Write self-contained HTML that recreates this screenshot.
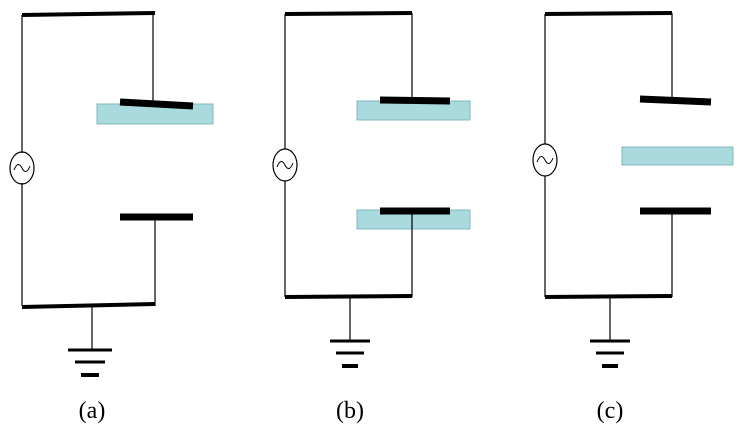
<!DOCTYPE html>
<html><head><meta charset="utf-8"><style>
html,body{margin:0;padding:0;background:#fff;width:746px;height:424px;overflow:hidden}
</style></head><body>
<svg width="746" height="424" viewBox="0 0 746 424" xmlns="http://www.w3.org/2000/svg">
<g stroke="#000" fill="none">
<!-- (a) -->
<line x1="22" y1="15" x2="155" y2="13" stroke-width="4"/>
<line x1="22" y1="15" x2="22" y2="153" stroke-width="1.2"/>
<line x1="22" y1="183" x2="22" y2="306" stroke-width="1.2"/>
<line x1="153" y1="13" x2="153" y2="103" stroke-width="1.2"/>
<rect x="97" y="104" width="116" height="20" fill="#a8dade" stroke="#7fb8bd" stroke-width="1"/>
<line x1="120" y1="102" x2="193" y2="106" stroke-width="7"/>
<line x1="120" y1="217" x2="193" y2="217" stroke-width="7"/>
<line x1="155" y1="217" x2="155" y2="306" stroke-width="1.2"/>
<line x1="22" y1="307" x2="155" y2="304" stroke-width="4"/>
<ellipse cx="22" cy="168" rx="12" ry="16" stroke-width="1.2"/>
<path d="M14 170 q4 -10 8 -2 t8 -2" stroke-width="1"/>
<line x1="92" y1="306" x2="92" y2="350" stroke-width="1.2"/>
<line x1="68" y1="350" x2="112" y2="350" stroke-width="3"/>
<line x1="75" y1="362" x2="105" y2="362" stroke-width="3"/>
<line x1="81" y1="375" x2="99" y2="375" stroke-width="4"/>
<!-- (b) -->
<line x1="285" y1="14" x2="412" y2="13" stroke-width="4"/>
<line x1="285" y1="14" x2="285" y2="149" stroke-width="1.2"/>
<line x1="285" y1="181" x2="285" y2="297" stroke-width="1.2"/>
<line x1="412" y1="13" x2="412" y2="100" stroke-width="1.2"/>
<rect x="357" y="101" width="113" height="19" fill="#a8dade" stroke="#7fb8bd" stroke-width="1"/>
<line x1="380" y1="100" x2="450" y2="101" stroke-width="7"/>
<rect x="357" y="210" width="113" height="19" fill="#a8dade" stroke="#7fb8bd" stroke-width="1"/>
<line x1="380" y1="211" x2="450" y2="211" stroke-width="7"/>
<line x1="412" y1="211" x2="412" y2="297" stroke-width="1.2"/>
<line x1="285" y1="297" x2="412" y2="296" stroke-width="4"/>
<ellipse cx="285" cy="165" rx="12" ry="16" stroke-width="1.2"/>
<path d="M277 167 q4 -10 8 -2 t8 -2" stroke-width="1"/>
<line x1="350" y1="297" x2="350" y2="340" stroke-width="1.2"/>
<line x1="330" y1="341" x2="370" y2="341" stroke-width="3"/>
<line x1="336" y1="353" x2="364" y2="353" stroke-width="3"/>
<line x1="342" y1="366" x2="358" y2="366" stroke-width="4"/>
<!-- (c) -->
<line x1="545" y1="14" x2="672" y2="13" stroke-width="4"/>
<line x1="545" y1="14" x2="545" y2="144" stroke-width="1.2"/>
<line x1="545" y1="176" x2="545" y2="297" stroke-width="1.2"/>
<line x1="672" y1="13" x2="672" y2="100" stroke-width="1.2"/>
<line x1="640" y1="99" x2="711" y2="102" stroke-width="7"/>
<rect x="622" y="147" width="111" height="18" fill="#a8dade" stroke="#7fb8bd" stroke-width="1"/>
<line x1="640" y1="211" x2="711" y2="211" stroke-width="7"/>
<line x1="672" y1="211" x2="672" y2="297" stroke-width="1.2"/>
<line x1="545" y1="297" x2="672" y2="296" stroke-width="4"/>
<ellipse cx="545" cy="160" rx="12" ry="16" stroke-width="1.2"/>
<path d="M537 162 q4 -10 8 -2 t8 -2" stroke-width="1"/>
<line x1="610" y1="297" x2="610" y2="340" stroke-width="1.2"/>
<line x1="590" y1="341" x2="630" y2="341" stroke-width="3"/>
<line x1="596" y1="353" x2="624" y2="353" stroke-width="3"/>
<line x1="602" y1="366" x2="618" y2="366" stroke-width="4"/>
</g>
<g font-family="Liberation Serif, serif" font-size="24" text-anchor="middle" fill="#000">
<text x="92" y="418">(a)</text>
<text x="350" y="418">(b)</text>
<text x="610" y="418">(c)</text>
</g>
</svg>
</body></html>
